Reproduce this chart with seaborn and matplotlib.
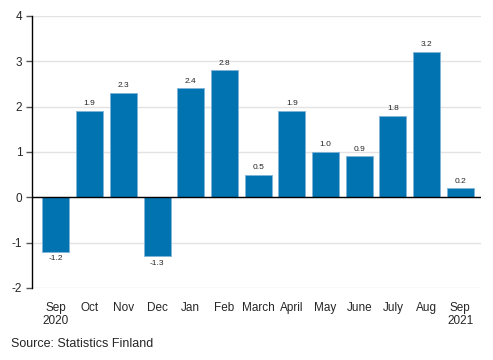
import matplotlib
matplotlib.use("Agg")
import matplotlib.pyplot as plt
import seaborn as sns
import pandas as pd

months = ["Sep\n2020", "Oct", "Nov", "Dec", "Jan", "Feb", "March", "April",
          "May", "June", "July", "Aug", "Sep\n2021"]
values = [-1.2, 1.9, 2.3, -1.3, 2.4, 2.8, 0.5, 1.9, 1.0, 0.9, 1.8, 3.2, 0.2]
yticks = [-2, -1, 0, 1, 2, 3, 4]

sns.set_style("white")
plt.rcParams['font.family'] = ['Liberation Sans', 'DejaVu Sans']

df = pd.DataFrame({"month": months, "value": values})

fig = plt.figure(figsize=(4.93, 3.6), dpi=100)
ax = fig.add_axes([0.065, 0.2, 0.911, 0.756])

sns.barplot(data=df, x="month", y="value", color="#0073B0", saturation=1,
            width=0.8, edgecolor="#7fb3d8", linewidth=0.6, ax=ax, zorder=3)

ax.set_ylim(-2, 4)
ax.set_xlim(-0.71, 12.62)
ax.set_yticks(yticks)
ax.set_yticklabels([str(t) for t in yticks])
ax.yaxis.grid(True, color="#e3e3e3", linewidth=1, zorder=0)
ax.set_axisbelow(True)
ax.axhline(0, color="black", linewidth=1, zorder=4)

for s in ["top", "right", "bottom"]:
    ax.spines[s].set_visible(False)
ax.spines["left"].set_color("black")
ax.spines["left"].set_linewidth(1)

ax.tick_params(axis="y", length=4, width=1, color="#555555", labelsize=8.5, pad=3, left=True)
ax.tick_params(axis="x", length=0, labelsize=8.5, pad=10)
for lbl in ax.get_xticklabels():
    lbl.set_linespacing(1.1)
ax.set_xlabel("")
ax.set_ylabel("")

for p, v in zip(ax.patches, values):
    x = p.get_x() + p.get_width() / 2
    if v >= 0:
        ax.text(x, v + 0.08, f"{v:.1f}", ha="center", va="bottom", fontsize=6, zorder=5)
    else:
        ax.text(x, v - 0.08, f"{v:.1f}", ha="center", va="top", fontsize=6, zorder=5)

fig.text(0.022, 0.027, "Source: Statistics Finland", fontsize=9, ha="left", va="bottom")

fig.savefig("out.png", dpi=100)
